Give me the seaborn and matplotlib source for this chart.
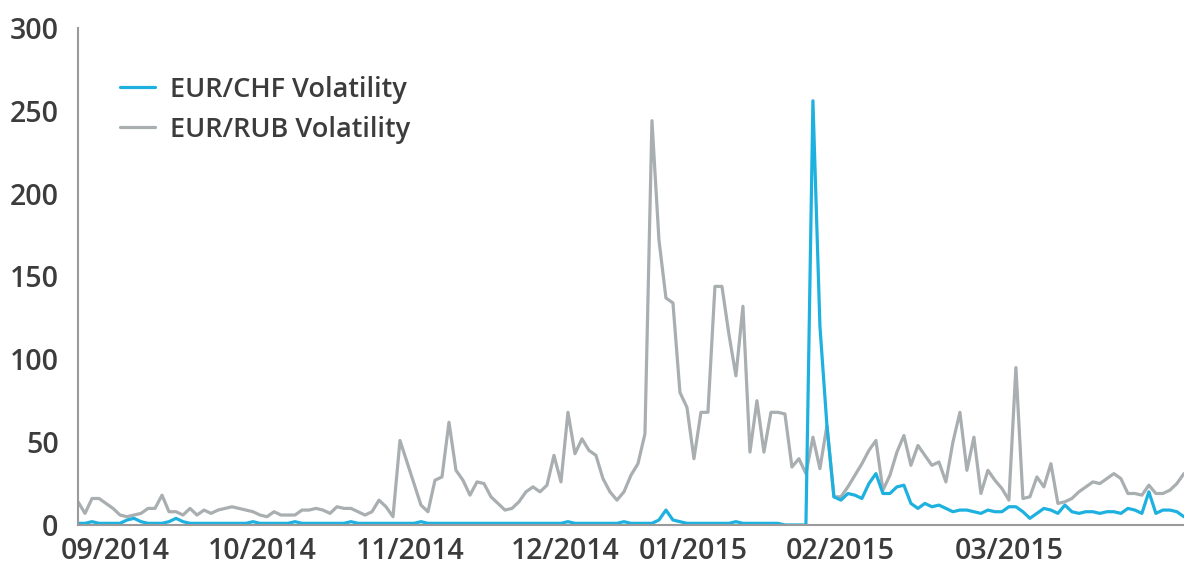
"""
Recreate the EUR/CHF vs EUR/RUB volatility line chart with seaborn.
"""

import matplotlib

matplotlib.use("Agg")

import matplotlib.pyplot as plt
import pandas as pd
import seaborn as sns

CHF_LABEL: str = "EUR/CHF Volatility"
RUB_LABEL: str = "EUR/RUB Volatility"

CHF_COLOR: str = "#1eb1e0"
RUB_COLOR: str = "#a9aeb1"
TEXT_COLOR: str = "#3c3c3c"
SPINE_COLOR: str = "#9a9a9a"

EUR_CHF = [
    1, 1, 2, 1, 1, 1, 1, 3, 4, 2, 1, 1, 1, 2, 4, 2, 1, 1, 1, 1,
    1, 1, 1, 1, 1, 2, 1, 1, 1, 1, 1, 2, 1, 1, 1, 1, 1, 1, 1, 2,
    1, 1, 1, 1, 1, 1, 1, 1, 1, 2, 1, 1, 1, 1, 1, 1, 1, 1, 1, 1,
    1, 1, 1, 1, 1, 1, 1, 1, 1, 1, 2, 1, 1, 1, 1, 1, 1, 1, 2, 1,
    1, 1, 1, 3, 9, 3, 2, 1, 1, 1, 1, 1, 1, 1, 2, 1, 1, 1, 1, 1,
    1, 0, 0, 0, 0, 256, 120, 60, 17, 15, 19, 18, 16, 25, 31, 19, 19, 23, 24, 13,
    10, 13, 11, 12, 10, 8, 9, 9, 8, 7, 9, 8, 8, 11, 11, 8, 4, 7, 10, 9,
    7, 12, 8, 7, 8, 8, 7, 8, 8, 7, 10, 9, 7, 20, 7, 9, 9, 8, 5,
]

EUR_RUB = [
    14, 7, 16, 16, 13, 10, 6, 5, 6, 7, 10, 10, 18, 8, 8, 6, 10, 6, 9, 7,
    9, 10, 11, 10, 9, 8, 6, 5, 8, 6, 6, 6, 9, 9, 10, 9, 7, 11, 10, 10,
    8, 6, 8, 15, 11, 5, 51, 38, 25, 12, 8, 27, 29, 62, 33, 27, 18, 26, 25, 17,
    13, 9, 10, 14, 20, 23, 20, 24, 42, 26, 68, 43, 52, 45, 42, 28, 20, 15, 20, 30,
    37, 55, 244, 172, 137, 134, 80, 71, 40, 68, 68, 144, 144, 115, 90, 132, 44, 75, 44, 68,
    68, 67, 35, 40, 31, 53, 34, 60, 17, 17, 23, 30, 37, 45, 51, 21, 30, 44, 54, 36,
    48, 42, 36, 38, 26, 50, 68, 33, 53, 19, 33, 27, 22, 15, 95, 16, 17, 29, 23, 37,
    13, 14, 16, 20, 23, 26, 25, 28, 31, 28, 19, 19, 18, 24, 19, 19, 21, 25, 31,
]

TICK_LABELS = [
    "09/2014", "10/2014", "11/2014", "12/2014",
    "01/2015", "02/2015", "03/2015",
]
TICK_DAYS = [5.3, 26.3, 47.4, 69.6, 87.9, 108.9, 133.1]

Y_TICKS = [0, 50, 100, 150, 200, 250, 300]


def create_volatility_chart() -> None:
    """Draw both volatility series and save the figure."""
    frame = pd.DataFrame({
        "Day": range(len(EUR_CHF)),
        CHF_LABEL: EUR_CHF,
        RUB_LABEL: EUR_RUB,
    })

    sns.set_style("white")
    plt.rcParams["font.family"] = ["Open Sans", "DejaVu Sans"]

    fig = plt.figure(figsize=(11.84, 5.74), dpi=100)
    ax = fig.add_axes([0.0659, 0.0854, 0.934, 0.866])

    sns.lineplot(data=frame, x="Day", y=RUB_LABEL, ax=ax,
                 color=RUB_COLOR, linewidth=2.3, label=RUB_LABEL)
    sns.lineplot(data=frame, x="Day", y=CHF_LABEL, ax=ax,
                 color=CHF_COLOR, linewidth=2.3, label=CHF_LABEL)

    ax.set_xlim(0, len(EUR_CHF) - 1)
    ax.set_ylim(0, 300)
    ax.set_yticks(Y_TICKS)
    ax.set_xticks(TICK_DAYS)
    ax.set_xticklabels(TICK_LABELS)
    ax.set_xlabel("")
    ax.set_ylabel("")

    ax.tick_params(axis="both", length=0, labelsize=20.5,
                   labelcolor=TEXT_COLOR)
    ax.tick_params(axis="y", pad=14)
    ax.tick_params(axis="x", pad=9)
    for label in ax.get_xticklabels() + ax.get_yticklabels():
        label.set_fontweight("semibold")

    for side in ("top", "right"):
        ax.spines[side].set_visible(False)
    for side in ("left", "bottom"):
        ax.spines[side].set_color(SPINE_COLOR)
        ax.spines[side].set_linewidth(1.5)

    handles, labels = ax.get_legend_handles_labels()
    legend = ax.legend(
        handles[::-1], labels[::-1],
        loc="upper left", bbox_to_anchor=(0.016, 0.953),
        frameon=False, fontsize=19.5, handlelength=1.3,
        labelspacing=0.45, handletextpad=0.55,
    )
    for text in legend.get_texts():
        text.set_color(TEXT_COLOR)
        text.set_fontweight("semibold")

    fig.savefig("out.png", dpi=100)


if __name__ == "__main__":
    create_volatility_chart()
